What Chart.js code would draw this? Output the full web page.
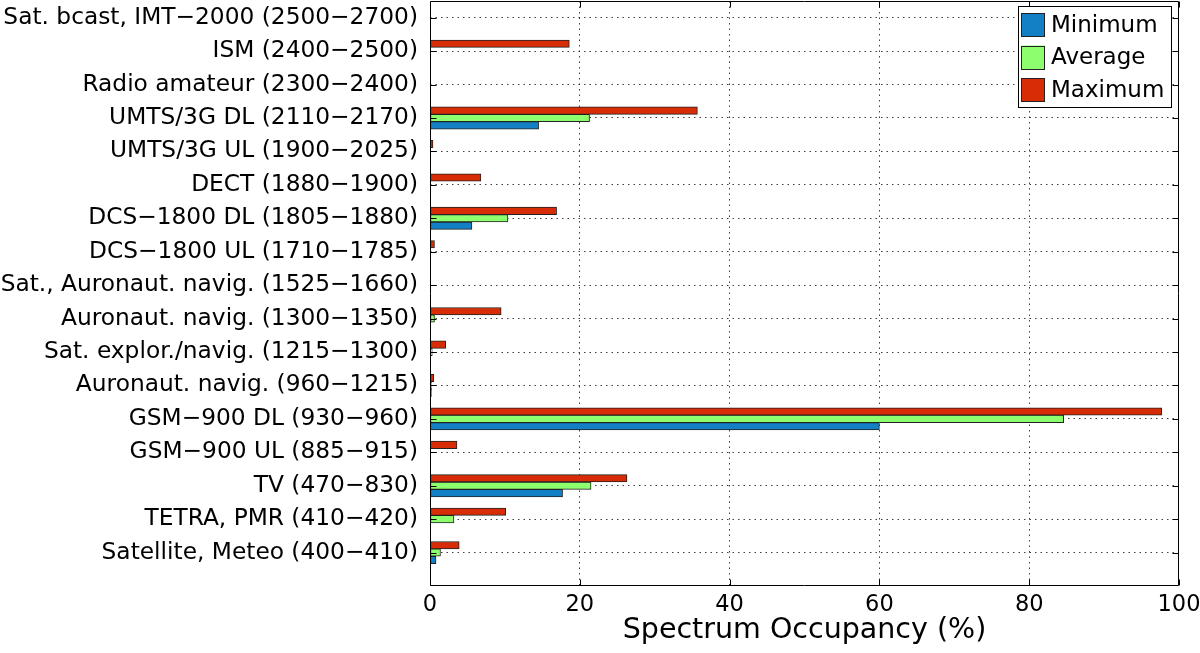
<!DOCTYPE html>
<html><head><meta charset="utf-8">
<script src="https://cdn.jsdelivr.net/npm/chart.js@4/dist/chart.umd.min.js"></script>
<style>html,body{margin:0;padding:0;background:#fff;}#wrap{width:1200px;height:653px;}</style>
</head><body><div id="wrap"><canvas id="c" width="1200" height="653"></canvas></div>
<script>
// Categories listed top to bottom
const categories = [
  "Sat. bcast, IMT\u22122000 (2500\u22122700)",
  "ISM (2400\u22122500)",
  "Radio amateur (2300\u22122400)",
  "UMTS/3G DL (2110\u22122170)",
  "UMTS/3G UL (1900\u22122025)",
  "DECT (1880\u22121900)",
  "DCS\u22121800 DL (1805\u22121880)",
  "DCS\u22121800 UL (1710\u22121785)",
  "Sat., Auronaut. navig. (1525\u22121660)",
  "Auronaut. navig. (1300\u22121350)",
  "Sat. explor./navig. (1215\u22121300)",
  "Auronaut. navig. (960\u22121215)",
  "GSM\u2212900 DL (930\u2212960)",
  "GSM\u2212900 UL (885\u2212915)",
  "TV (470\u2212830)",
  "TETRA, PMR (410\u2212420)",
  "Satellite, Meteo (400\u2212410)"
];
const minimum = [0, 0, 0, 14.5, 0, 0, 5.6, 0, 0, 0, 0, 0.2, 60.0, 0, 17.7, 0, 0.8];
const average = [0, 0, 0, 21.3, 0, 0, 10.4, 0, 0, 0.6, 0.3, 0.2, 84.6, 0, 21.5, 3.2, 1.4];
const maximum = [0, 18.6, 0, 35.7, 0.4, 6.8, 16.9, 0.6, 0, 9.5, 2.1, 0.5, 97.7, 3.6, 26.3, 10.1, 3.9];
const xTicks = [0, 20, 40, 60, 80, 100];
const seriesNames = ["Minimum", "Average", "Maximum"];
const xTitle = "Spectrum Occupancy (%)";

const FONT = "'DejaVu Sans', sans-serif";
const fills = { Minimum: '#1380c6', Average: '#8dff6e', Maximum: '#d72c05' };
const edge = '#222';
const N = categories.length;
const pts = arr => arr.map((v, i) => ({ x: v, y: N - i }));
const seriesData = { Minimum: minimum, Average: average, Maximum: maximum };

// Top bar in each group is the first dataset
const datasets = seriesNames.slice().reverse().map(name => ({
  label: name,
  data: pts(seriesData[name]),
  backgroundColor: fills[name],
  borderColor: edge,
  borderWidth: 1,
  borderSkipped: false,
  barThickness: 7.4
}));

const boxPlugin = {
  id: 'matlabBox',
  afterDatasetsDraw(chart) {
    const { ctx, chartArea: a, scales: { x, y } } = chart;
    ctx.save();
    ctx.strokeStyle = '#000';
    ctx.lineWidth = 1;
    const L = Math.round(a.left) + 0.5, R = Math.round(a.right) - 0.5;
    const T = Math.round(a.top) + 0.5, B = Math.round(a.bottom) - 0.5;
    ctx.beginPath();
    ctx.rect(L, T, R - L, B - T);
    x.ticks.forEach(t => {
      const px = Math.round(x.getPixelForValue(t.value)) + 0.5;
      ctx.moveTo(px, B); ctx.lineTo(px, B - 6);
      ctx.moveTo(px, T); ctx.lineTo(px, T + 6);
    });
    y.ticks.forEach(t => {
      const py = Math.round(y.getPixelForValue(t.value)) + 0.5;
      ctx.moveTo(L, py); ctx.lineTo(L + 6, py);
      ctx.moveTo(R, py); ctx.lineTo(R - 6, py);
    });
    ctx.stroke();
    ctx.restore();
  },
  afterDraw(chart) {
    const { ctx, chartArea: a } = chart;
    const boxW = 154, boxH = 102;
    const boxR = a.right - 7, boxT = a.top + 5, boxL = boxR - boxW;
    ctx.save();
    ctx.fillStyle = '#fff';
    ctx.fillRect(boxL, boxT, boxW, boxH);
    ctx.strokeStyle = '#000';
    ctx.lineWidth = 1;
    ctx.strokeRect(Math.round(boxL) + 0.5, Math.round(boxT) + 0.5, boxW - 1, boxH - 1);
    ctx.font = "23px " + FONT;
    ctx.textBaseline = 'middle';
    ctx.textAlign = 'left';
    seriesNames.forEach((name, i) => {
      const cy = boxT + 19 + i * 32.5;
      ctx.fillStyle = fills[name];
      ctx.fillRect(boxL + 3, cy - 12, 24, 24);
      ctx.strokeStyle = edge;
      ctx.strokeRect(Math.round(boxL + 3) + 0.5, Math.round(cy - 12) + 0.5, 23, 23);
      ctx.fillStyle = '#000';
      ctx.fillText(name, boxL + 33, cy + 1);
    });
    ctx.restore();
  }
};

new Chart(document.getElementById('c'), {
  type: 'bar',
  data: { datasets },
  plugins: [boxPlugin],
  options: {
    indexAxis: 'y',
    responsive: false,
    animation: false,
    layout: { padding: { top: 1, right: 21, left: 0, bottom: 0 } },
    plugins: { legend: { display: false }, tooltip: { enabled: false } },
    scales: {
      x: {
        type: 'linear', position: 'bottom', min: 0, max: 100, offset: false,
        afterBuildTicks: s => { s.ticks = xTicks.map(v => ({ value: v })); },
        ticks: { font: { family: FONT, size: 22.5 }, color: '#000', padding: 6, maxRotation: 0, autoSkip: false },
        grid: {
          drawTicks: false, lineWidth: 1, offset: false,
          color: c => (c.tick && (c.tick.value === 0 || c.tick.value === 100)) ? 'rgba(0,0,0,0)' : 'rgba(0,0,0,0.75)'
        },
        border: { display: false, dash: [1.5, 4] },
        title: { display: true, text: xTitle, color: '#000', font: { family: FONT, size: 28.5 }, padding: { top: 0, bottom: 5 } },
        afterFit: s => { s.height = 67; s.paddingLeft = 0; s.paddingRight = 0; }
      },
      y: {
        type: 'linear', position: 'left', min: 0, max: 17.5, offset: false,
        afterBuildTicks: s => { s.ticks = categories.map((c, i) => ({ value: N - i })); },
        ticks: { callback: v => categories[N - v], font: { family: FONT, size: 23.3 }, color: '#000', padding: 12, autoSkip: false },
        grid: { drawTicks: false, lineWidth: 1, offset: false, color: 'rgba(0,0,0,0.75)' },
        border: { display: false, dash: [1.5, 4] },
        afterFit: s => { s.width = 430; s.paddingTop = 0; s.paddingBottom = 0; }
      }
    }
  }
});
</script>
</body></html>
